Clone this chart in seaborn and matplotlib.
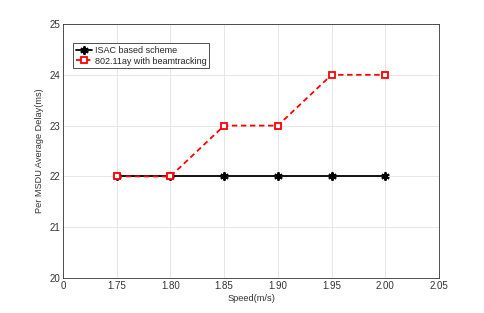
import matplotlib
matplotlib.use("Agg")
import matplotlib.pyplot as plt
import seaborn as sns
import pandas as pd

# data
speed_labels = ["1.75", "1.80", "1.85", "1.90", "1.95", "2.00"]
isac_delay = [22, 22, 22, 22, 22, 22]
beam_delay = [22, 22, 23, 23, 24, 24]
xtick_labels = ["0", "1.75", "1.80", "1.85", "1.90", "1.95", "2.00", "2.05"]

pos = list(range(1, len(speed_labels) + 1))
df = pd.DataFrame({"pos": pos, "isac": isac_delay, "beam": beam_delay})

sns.set_style("whitegrid")
plt.rcParams["font.family"] = ["Liberation Sans", "DejaVu Sans"]

fig = plt.figure(figsize=(4.85, 3.13), dpi=100)
ax = fig.add_axes([63 / 485, 1 - 278 / 313, (439 - 63) / 485, (278 - 24) / 313])

sns.lineplot(data=df, x="pos", y="isac", ax=ax, color="black", linestyle="-",
             linewidth=1.3, marker=(6, 2, 0), markersize=6,
             markeredgecolor="black", markeredgewidth=1.4, zorder=2,
             label="ISAC based scheme")
sns.lineplot(data=df, x="pos", y="beam", ax=ax, color="#ff0000",
             linewidth=1.3, marker="s", markersize=4.5, markerfacecolor="white",
             markeredgecolor="#ff0000", markeredgewidth=1.3, zorder=3,
             dashes=False, label="802.11ay with beamtracking")
ax.lines[-1].set_dashes([3, 2])

ax.set_xlim(0, 7)
ax.set_ylim(20, 25)
ax.set_xticks(range(8))
ax.set_xticklabels(xtick_labels)
ax.set_yticks([20, 21, 22, 23, 24, 25])
ax.tick_params(direction="in", length=3, labelsize=7, colors="#333333",
               labelcolor="#333333", pad=2)
ax.grid(True, color="#e6e6e6", linewidth=0.7)
for s in ax.spines.values():
    s.set_color("#333333")
    s.set_linewidth(0.6)
ax.set_xlabel("Speed(m/s)", fontsize=6.7, color="#333333", labelpad=2)
ax.set_ylabel("Per MSDU Average Delay(ms)", fontsize=6.6, color="#333333", labelpad=4)

leg = ax.legend(loc="upper left", bbox_to_anchor=(0.027, 0.925), fontsize=6.5,
                frameon=True, fancybox=False, edgecolor="#333333", framealpha=1,
                handlelength=1.8, handletextpad=0.3, borderpad=0.3,
                labelspacing=0.2, borderaxespad=0)
leg.get_frame().set_linewidth(0.6)

fig.savefig("out.png", dpi=100)
